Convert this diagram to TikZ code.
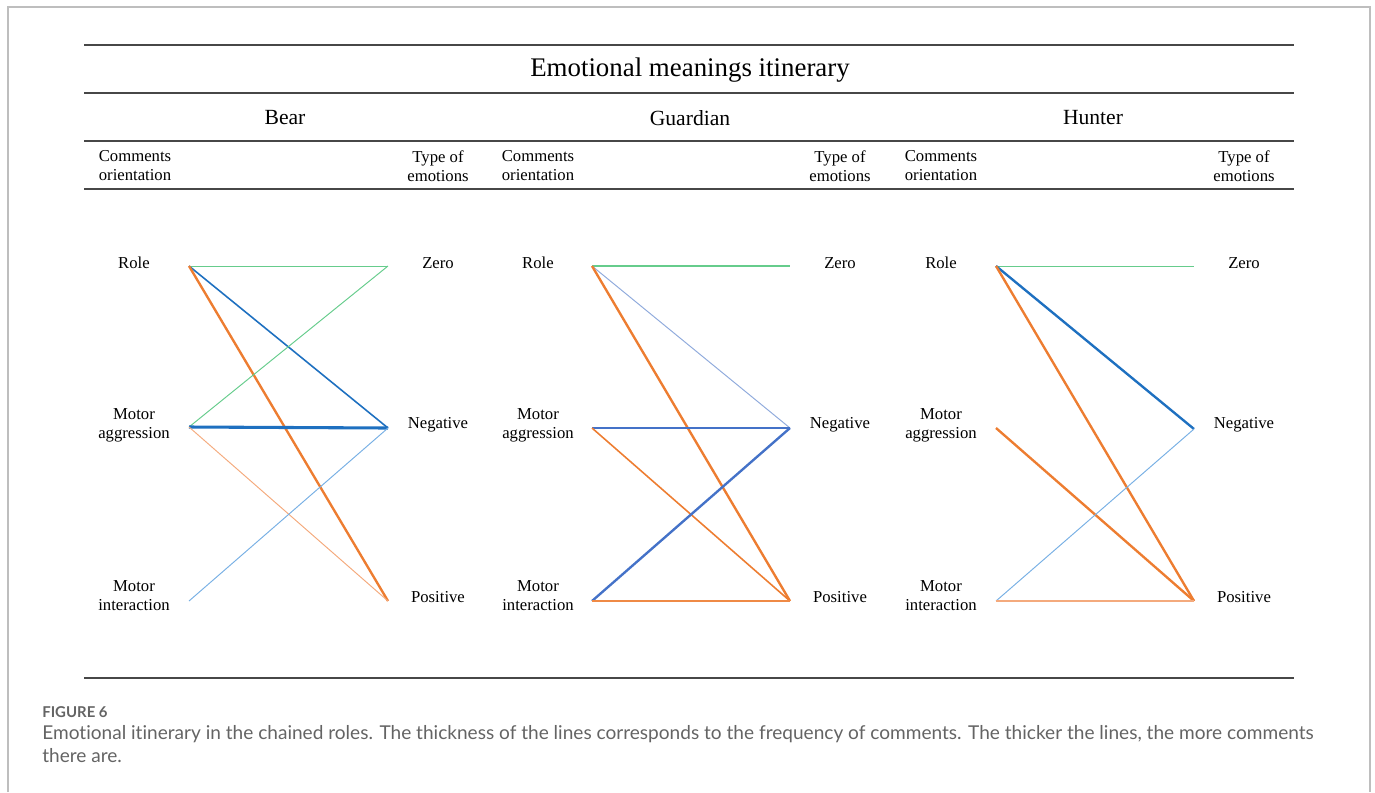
\documentclass[tikz,border=0pt]{standalone}
\usepackage{fontspec}
\setmainfont{Liberation Serif}
\newfontfamily\capfont[Ligatures={NoCommon}]{Lato}
\usetikzlibrary{positioning}

\definecolor{zerogreen}{RGB}{102,204,140}
\definecolor{negblue}{RGB}{30,112,192}
\definecolor{midblue}{RGB}{68,114,200}
\definecolor{paleblue}{RGB}{120,176,228}
\definecolor{lavblue}{RGB}{143,170,220}
\definecolor{posorange}{RGB}{237,125,49}
\definecolor{paleorange}{RGB}{244,170,125}
\definecolor{framegray}{RGB}{190,190,190}
\definecolor{capgray}{RGB}{100,100,100}

\begin{document}
\begin{tikzpicture}[
  x=0.02cm, y=-0.02cm,
  lbl/.style={align=center, inner sep=0pt, font=\fontsize{9.5}{10.8}\selectfont},
  role/.style={font=\fontsize{12.3}{14}\selectfont, inner sep=0pt},
  rule/.style={line width=0.85pt, black!72},
  thin/.style={line width=0.55pt},
  med/.style={line width=0.9pt},
  thick/.style={line width=1.35pt},
  xthick/.style={line width=1.75pt},
]
\useasboundingbox (0,0) rectangle (1375,792);

% Outer frame (open at the bottom)
\draw[framegray, line width=1.1pt] (8,792) -- (8,7) -- (1370,7) -- (1370,792);

% Table rules
\draw[rule] (84,45)  -- (1294,45);
\draw[rule] (84,93)  -- (1294,93);
\draw[rule] (84,141) -- (1294,141);
\draw[rule] (84,189) -- (1294,189);
\draw[rule] (84,678) -- (1294,678);

% Headings
\node[font=\fontsize{15.3}{17}\selectfont, inner sep=0pt] (title) at (690,70) {Emotional meanings itinerary};
\node[role] (bear)     at (285,118)  {Bear};
\node[role] (guardian) at (690,118)  {Guardian};
\node[role] (hunter)   at (1093,118) {Hunter};

\node[lbl] (bHl) at (135,166)  {Comments\\orientation};
\node[lbl] (bHr) at (438,166)  {Type of\\emotions};
\node[lbl] (gHl) at (538,166)  {Comments\\orientation};
\node[lbl] (gHr) at (840,166)  {Type of\\emotions};
\node[lbl] (hHl) at (941,166)  {Comments\\orientation};
\node[lbl] (hHr) at (1244,166) {Type of\\emotions};

% Bear
\node[lbl] (bRole) at (134,263)  {Role};
\node[lbl] (bAgg)  at (134,425)  {Motor\\aggression};
\node[lbl] (bInt)  at (134,596)  {Motor\\interaction};
\node[lbl] (bZero) at (438,263)  {Zero};
\node[lbl] (bNeg)  at (438,425)  {Negative};
\node[lbl] (bPos)  at (438,597)  {Positive};
\coordinate (bR) at (189,266);
\coordinate (bA) at (189,427);
\coordinate (bI) at (189,601);
\coordinate (bZ) at (388,266);
\coordinate (bN) at (388,428);
\coordinate (bP) at (388,601);

\draw[thin, zerogreen]    (bR) -- (bZ);
\draw[med, negblue]       (bR) -- (bN);
\draw[thick, posorange]   (bR) -- (bP);
\draw[thin, zerogreen]    (bA) -- (bZ);
\draw[xthick, negblue]    (bA) -- (bN);
\draw[thin, paleorange]   (bA) -- (bP);
\draw[thin, paleblue]     (bI) -- (bN);

% Guardian
\node[lbl] (gRole) at (538,263)  {Role};
\node[lbl] (gAgg)  at (538,425)  {Motor\\aggression};
\node[lbl] (gInt)  at (538,596)  {Motor\\interaction};
\node[lbl] (gZero) at (840,263)  {Zero};
\node[lbl] (gNeg)  at (840,425)  {Negative};
\node[lbl] (gPos)  at (840,597)  {Positive};
\coordinate (gR) at (592,266);
\coordinate (gA) at (592,428);
\coordinate (gI) at (592,601);
\coordinate (gZ) at (790,266);
\coordinate (gN) at (790,428);
\coordinate (gP) at (790,601);

\draw[med, zerogreen]     (gR) -- (gZ);
\draw[thin, lavblue]      (gR) -- (gN);
\draw[thick, posorange]   (gR) -- (gP);
\draw[med, midblue]       (gA) -- (gN);
\draw[med, posorange]     (gA) -- (gP);
\draw[thick, midblue]     (gI) -- (gN);
\draw[med, posorange!90]  (gI) -- (gP);

% Hunter
\node[lbl] (hRole) at (941,263)  {Role};
\node[lbl] (hAgg)  at (941,425)  {Motor\\aggression};
\node[lbl] (hInt)  at (941,596)  {Motor\\interaction};
\node[lbl] (hZero) at (1244,263) {Zero};
\node[lbl] (hNeg)  at (1244,425) {Negative};
\node[lbl] (hPos)  at (1244,597) {Positive};
\coordinate (hR) at (996,266);
\coordinate (hA) at (996,428);
\coordinate (hI) at (996,601);
\coordinate (hZ) at (1194,266);
\coordinate (hN) at (1194,429);
\coordinate (hP) at (1194,601);

\draw[thin, zerogreen]    (hR) -- (hZ);
\draw[thick, negblue]     (hR) -- (hN);
\draw[thick, posorange]   (hR) -- (hP);
\draw[thick, posorange]   (hA) -- (hP);
\draw[thin, paleblue]     (hI) -- (hN);
\draw[med, paleorange]    (hI) -- (hP);

% Caption
\node[anchor=west, inner sep=0pt, text=capgray, font=\capfont\bfseries\fontsize{8.5}{10}\selectfont]
  (fig) at (42,712) {FIGURE 6};
\node[anchor=north west, inner sep=0pt, align=left, text=capgray, font=\capfont\fontsize{10.85}{13.1}\selectfont]
  (cap) at (42,725) {Emotional itinerary in the chained roles. The thickness of the lines corresponds to the frequency of comments. The thicker the lines, the more comments\\there are.};

\end{tikzpicture}
\end{document}
